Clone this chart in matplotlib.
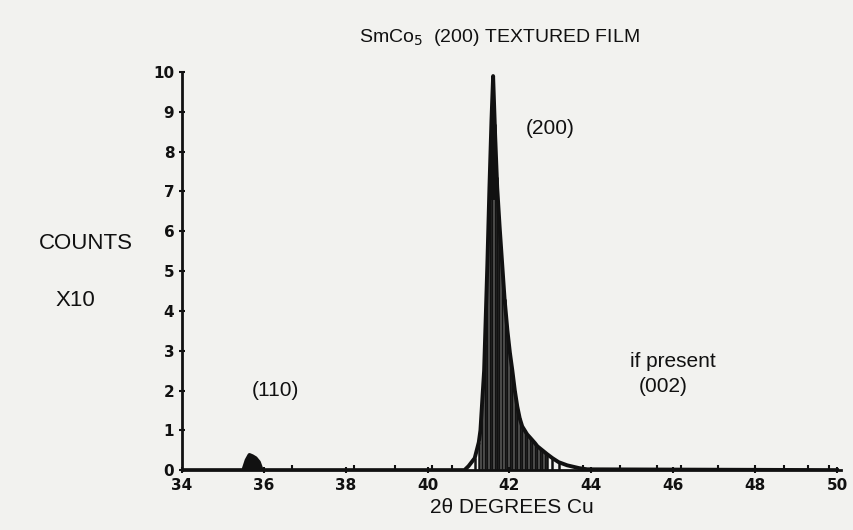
import matplotlib.pyplot as plt
import numpy as np

# diffraction scan: 2-theta (deg) vs counts (x10)
two_theta = [34.0, 35.5, 35.58, 35.65, 35.72, 35.8, 35.88, 35.95, 40.9, 41.0, 41.15, 41.25,
             41.29, 41.38, 41.46, 41.51, 41.56, 41.60, 41.65, 41.70, 41.76, 41.82,
             41.88, 41.95, 42.01, 42.07, 42.13, 42.19, 42.25, 42.31, 42.37, 42.43,
             42.50, 42.56, 42.62, 42.68, 42.74, 42.80, 42.86, 42.92, 43.05,
             43.2, 43.41, 43.7, 43.9, 50.0]
counts = [0.0, 0.0, 0.25, 0.38, 0.35, 0.3, 0.2, 0.0, 0.0, 0.1, 0.3, 0.7,
          1.0, 2.5, 5.2, 7.1, 8.8, 9.9, 8.4, 7.1, 6.1, 5.2,
          4.3, 3.5, 2.95, 2.5, 2.0, 1.6, 1.3, 1.1, 1.0, 0.9,
          0.82, 0.75, 0.68, 0.6, 0.55, 0.5, 0.45, 0.4, 0.3,
          0.2, 0.12, 0.05, 0.02, 0.0]

# vertical hatch positions under the (200) reflection
hatch_x = [41.15, 41.25, 41.33, 41.40, 41.46, 41.52, 41.57, 41.64, 41.69, 41.75,
           41.82, 41.88, 41.95, 42.01, 42.07, 42.13, 42.19, 42.25, 42.31, 42.37,
           42.43, 42.50, 42.56, 42.62, 42.68, 42.74, 42.80, 42.86, 42.92, 43.05, 43.2]

x_ticks = [34, 36, 38, 40, 42, 44, 46, 48, 50]
y_ticks = list(range(0, 11))

# small marks along the baseline
baseline_marks = [36.7, 38.2, 39.2, 40.1, 40.6, 43.8, 44.7, 45.6, 46.2, 47.1, 48.0, 48.7, 49.3, 49.8]

ink = '#111111'
paper = '#f2f2ef'
fam = ['Liberation Sans Narrow', 'Liberation Sans', 'DejaVu Sans']

fig = plt.figure(figsize=(8.54, 5.30), dpi=100, facecolor=paper)
ax = fig.add_axes([0.213, 0.113, 0.772, 0.751], facecolor=paper)

t = np.array(two_theta)
c = np.array(counts)
# (110) blob and solid peak tip
ax.fill_between(t, 0, c, where=(t > 35.4) & (t < 36.0), color=ink, lw=0)
ax.fill_between(t, np.minimum(c, 6.8), c, where=(t > 41.45) & (t < 41.75), color=ink, lw=0)
hatch_h = np.interp(hatch_x, two_theta, counts)
ax.vlines(hatch_x, 0, hatch_h, color=ink, lw=1.8)
ax.plot(two_theta, counts, color=ink, lw=2.8, solid_joinstyle='round')
ax.plot(baseline_marks, [0.05] * len(baseline_marks), ls='none', marker='|',
        ms=5, mew=1.5, color=ink)

ax.set_xlim(34, 50.1)
ax.set_ylim(0, 10)
ax.set_xticks(x_ticks)
ax.set_yticks(y_ticks)
ax.tick_params(axis='both', colors=ink, labelsize=11, width=1.5, length=4,
               direction='inout')
for lab in ax.get_xticklabels() + ax.get_yticklabels():
    lab.set_fontweight('bold')

for side in ['top', 'right']:
    ax.spines[side].set_visible(False)
for side in ['left', 'bottom']:
    ax.spines[side].set_linewidth(2.0)
    ax.spines[side].set_color(ink)

fig.text(0.585, 0.93, 'SmCo$_5$  (200) TEXTURED FILM', ha='center', va='center',
         fontsize=14, color=ink, family=fam)
ax.set_xlabel('2θ DEGREES Cu', fontsize=15, color=ink, labelpad=4, family=fam)
fig.text(0.1, 0.54, 'COUNTS', ha='center', va='center', fontsize=16, color=ink,
         family=fam)
fig.text(0.088, 0.433, 'X10', ha='center', va='center', fontsize=16, color=ink,
         family=fam)

ax.text(42.4, 8.45, '(200)', fontsize=15, color=ink, family=fam)
ax.text(35.7, 1.85, '(110)', fontsize=15, color=ink, family=fam)
ax.text(44.95, 2.6, 'if present', fontsize=15, color=ink, family=fam)
ax.text(45.15, 1.95, '(002)', fontsize=15, color=ink, family=fam)

fig.savefig('out.png', dpi=100, facecolor=paper)
